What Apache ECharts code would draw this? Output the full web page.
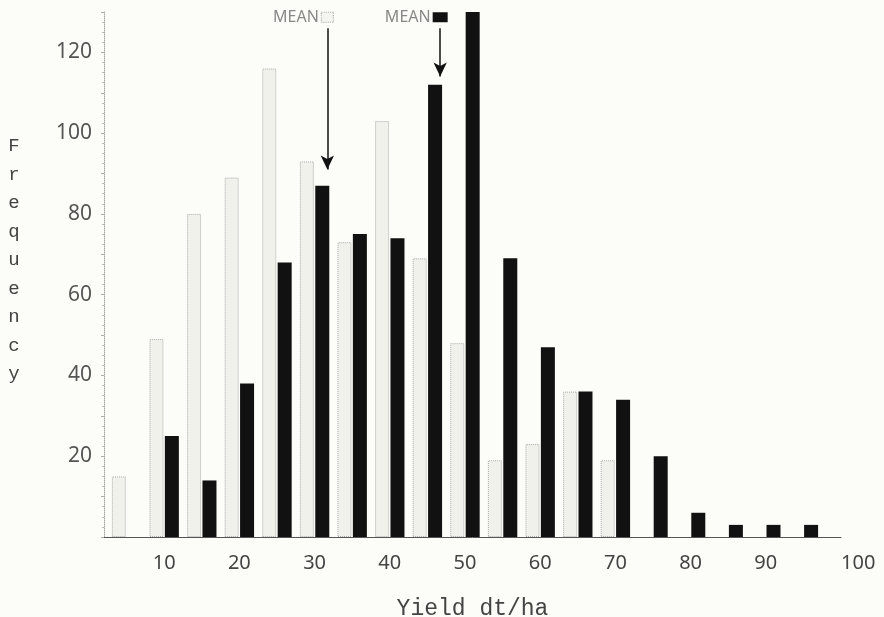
<!DOCTYPE html>
<html><head><meta charset="utf-8">
<script src="https://cdn.jsdelivr.net/npm/echarts@6/dist/echarts.min.js"></script>
<style>html,body{margin:0;padding:0;background:#fcfcf8}#c{width:884px;height:617px}</style>
</head><body><div id="c"></div>
<script>
// Yield classes (dt/ha)
const bins = [5,10,15,20,25,30,35,40,45,50,55,60,65,70,75,80,85,90,95];
// Frequencies, open (dotted) bars
const lightFreq = [15,49,80,89,116,93,73,103,69,48,19,23,36,19,null,null,null,null,null];
// Frequencies, black bars
const darkFreq = [null,25,14,38,68,87,75,74,112,130,69,47,36,34,20,6,3,3,3];
// Tick labels
const xTicks = [10,20,30,40,50,60,70,80,90,100];
const yTicks = [20,40,60,80,100,120];
// Means (dt/ha) and arrow extent (frequency units)
const meanLight = 31.7, meanDark = 46.7;
const arrowTail = 126, arrowTipLight = 91, arrowTipDark = 114;
const meanLabelLevel = 128.7;

const toPairs = arr => bins.map((b,i)=>[b, arr[i]]).filter(p=>p[1]!=null);
const chart = echarts.init(document.getElementById('c'));
const monoFont = '"Liberation Mono", "DejaVu Sans Mono", monospace';
const sansFont = '"Noto Sans", "DejaVu Sans", sans-serif';

function meanSeries(mean, tip, dark){
  return {
    type:'scatter', data: [], silent:true,
    markLine: {
      silent: true, animation: false,
      symbol: ['none','arrow'], symbolSize: [10,14],
      lineStyle: {color:'#111', type:'solid', width:1.5},
      label: {show:false},
      data: [[{coord:[mean, arrowTail]}, {coord:[mean, tip]}]]
    },
    markPoint: {
      silent: true, animation: false,
      symbol: 'rect', symbolSize: dark ? [15,10] : [12,10],
      itemStyle: dark ? {color:'#111'} : {color:'#f4f4f0', borderColor:'#aaa', borderType:'dotted', borderWidth:1},
      label: {show:true, formatter:'MEAN', position:'left', distance:2, color:'#888', fontFamily: sansFont, fontSize:16},
      data: [{coord:[mean, meanLabelLevel]}]
    }
  };
}

chart.setOption({
  backgroundColor: '#fcfcf8',
  animation: false,
  grid: {left:104, right:43, top:12, bottom:80, containLabel:false, outerBoundsMode:'none'},
  xAxis: {
    type:'value', min:2, max:100,
    name:'Yield dt/ha', nameLocation:'middle', nameGap:60,
    nameTextStyle:{fontFamily:monoFont, fontSize:23, color:'#444'},
    axisLine:{show:true, lineStyle:{color:'#555', width:1}},
    axisTick:{show:false},
    splitLine:{show:false},
    axisLabel:{customValues:xTicks, margin:16, fontFamily:sansFont, fontSize:20, color:'#444', alignMaxLabel:'left'}
  },
  yAxis: {
    type:'value', min:0, max:130, interval:10,
    name:'Frequency'.split('').join('\n') + '\n', nameLocation:'middle', nameGap:90, nameRotate:0,
    nameTextStyle:{fontFamily:monoFont, fontSize:19, lineHeight:28.5, color:'#444', align:'center', verticalAlign:'middle'},
    axisLine:{show:true, lineStyle:{color:'#aaa', type:'dotted', width:1}},
    axisTick:{show:true, length:3, lineStyle:{color:'#aaa'}},
    minorTick:{show:true, splitNumber:4, length:2, lineStyle:{color:'#bbb'}},
    splitLine:{show:false},
    axisLabel:{customValues:yTicks, margin:12, fontFamily:sansFont, fontSize:21, color:'#555'}
  },
  series: [
    {
      type:'bar', name:'light', data: toPairs(lightFreq),
      barWidth:14, barGap:'10%',
      itemStyle:{color:'rgba(232,232,226,0.55)', borderColor:'#aaa', borderType:'dotted', borderWidth:1}
    },
    {
      type:'bar', name:'dark', data: toPairs(darkFreq),
      barWidth:14, barGap:'10%',
      itemStyle:{color:'#111'}
    },
    meanSeries(meanLight, arrowTipLight, false),
    meanSeries(meanDark, arrowTipDark, true)
  ]
});
</script>
</body></html>
